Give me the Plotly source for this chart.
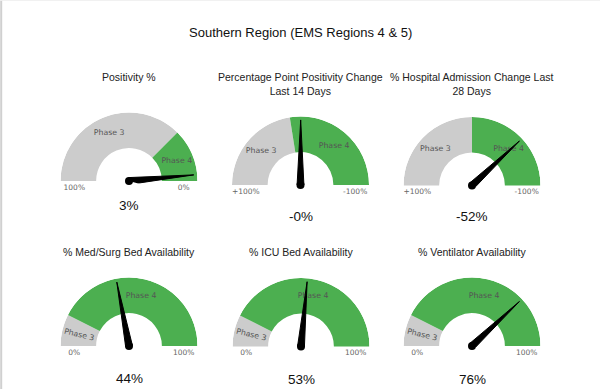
import math
import plotly.graph_objects as go

# ---------------- data ----------------
main_title = "Southern Region (EMS Regions 4 & 5)"
gauge_titles = [
    "Positivity %",
    "Percentage Point Positivity Change<br>Last 14 Days",
    "% Hospital Admission Change Last<br>28 Days",
    "% Med/Surg Bed Availability",
    "% ICU Bed Availability",
    "% Ventilator Availability",
]
values = [3, -0.2, -52, 44, 53, 76]
left_values = [100, 100, 100, 0, 0, 0]
right_values = [0, -100, -100, 100, 100, 100]
left_labels = ["100%", "+100%", "+100%", "0%", "0%", "0%"]
right_labels = ["0%", "-100%", "-100%", "100%", "100%", "100%"]
phase3_start = [100, 100, 100, 0, 0, 0]
phase3_end = [25, 10, 0, 15, 15, 15]
phase4_start = [25, 10, 0, 15, 15, 15]
phase4_end = [0, -100, -100, 100, 100, 100]
band_names = ["Phase 3", "Phase 4"]

# ---------------- layout / style ----------------
W, H = 600, 389
R = 68.5
centers = [(129, 181), (300.5, 185), (472, 185.5), (129, 346), (301, 346.5), (472, 346)]
title_top = [69, 69, 69, 244, 244, 244]
value_y = [205.5, 216, 216, 378.5, 379, 379]
GRAY = "#cccccc"
GREEN = "#4caf50"
band_colors = [GRAY, GREEN]
FONT = "Liberation Sans, Arial, sans-serif"
SMALL_FONT = "DejaVu Sans, Verdana, sans-serif"
SECTOR = (-15, 195)
below = math.sin(math.radians(-SECTOR[0]))
END_LABEL_DROP = 3.5  # degrees below the baseline for the end labels

fig = go.Figure()


def to_theta(v, i):
    # angle measured counter-clockwise from the right end of the gauge
    return 180.0 * (v - right_values[i]) / (left_values[i] - right_values[i])


annotations = []
for i in range(6):
    cx, cy = centers[i]
    pid = "polar" if i == 0 else f"polar{i + 1}"
    sub = pid
    x0, x1 = (cx - R) / W, (cx + R) / W
    y1 = 1 - (cy - R) / H
    y0 = 1 - (cy + below * R) / H
    fig.update_layout({pid: dict(
        domain=dict(x=[x0, x1], y=[y0, y1]),
        sector=list(SECTOR),
        bgcolor="rgba(0,0,0,0)",
        hole=0,
        radialaxis=dict(visible=False, range=[0, 1]),
        angularaxis=dict(visible=False, rotation=0, direction="counterclockwise",
                         thetaunit="degrees"),
    )})

    starts = [phase3_start[i], phase4_start[i]]
    ends = [phase3_end[i], phase4_end[i]]
    for b in range(2):
        t0, t1 = to_theta(starts[b], i), to_theta(ends[b], i)
        fig.add_trace(go.Barpolar(
            r=[0.52], base=[0.48], theta=[(t0 + t1) / 2], width=[abs(t1 - t0)],
            marker=dict(color=band_colors[b], line=dict(width=0)),
            subplot=sub, showlegend=False, hoverinfo="skip",
        ))
        tc = (t0 + t1) / 2
        span = abs(t1 - t0)
        if span < 35:
            ang = math.radians(tc)
            lx = cx + 0.75 * R * math.cos(ang)
            ly = cy - 0.75 * R * math.sin(ang)
            annotations.append(dict(
                x=lx / W, y=1 - ly / H, xref="paper", yref="paper",
                text=band_names[b], showarrow=False,
                textangle=180 - tc if tc > 90 else -tc,
                font=dict(family=SMALL_FONT, size=7.8, color="#555555"),
                xanchor="center", yanchor="middle",
            ))
        else:
            fig.add_trace(go.Scatterpolar(
                r=[0.755], theta=[tc], mode="text", text=[band_names[b]],
                textfont=dict(family=SMALL_FONT, size=7.8, color="#555555"),
                subplot=sub, showlegend=False, hoverinfo="skip", cliponaxis=False,
            ))

    # end labels
    fig.add_trace(go.Scatterpolar(
        r=[0.8, 0.8], theta=[180 + END_LABEL_DROP, -END_LABEL_DROP], mode="text",
        text=[left_labels[i], right_labels[i]], textposition="bottom center",
        textfont=dict(family=SMALL_FONT, size=7.5, color="#666666"),
        subplot=sub, showlegend=False, hoverinfo="skip", cliponaxis=False,
    ))

    # needle
    th = to_theta(values[i], i)
    fig.add_trace(go.Scatterpolar(
        r=[0.05, 0.95, 0.05, 0.05], theta=[th + 90, th, th - 90, th + 90],
        mode="lines", fill="toself", fillcolor="black",
        line=dict(color="black", width=1),
        subplot=sub, showlegend=False, hoverinfo="skip",
    ))
    fig.add_trace(go.Scatterpolar(
        r=[0], theta=[0], mode="markers",
        marker=dict(color="black", size=8),
        subplot=sub, showlegend=False, hoverinfo="skip", cliponaxis=False,
    ))

    annotations.append(dict(
        x=cx / W, y=1 - title_top[i] / H, xref="paper", yref="paper",
        text=gauge_titles[i], showarrow=False, xanchor="center", yanchor="top",
        font=dict(family=FONT, size=10.5, color="#222222"),
    ))
    annotations.append(dict(
        x=cx / W, y=1 - value_y[i] / H, xref="paper", yref="paper",
        text=f"{values[i]:.0f}%", showarrow=False, xanchor="center", yanchor="middle",
        font=dict(family=FONT, size=13.5, color="#111111"),
    ))

annotations.append(dict(
    x=0.5, y=1 - 32.5 / H, xref="paper", yref="paper", text=main_title,
    showarrow=False, xanchor="center", yanchor="middle",
    font=dict(family=FONT, size=13, color="#111111"),
))

fig.update_layout(
    width=W, height=H,
    margin=dict(l=0, r=0, t=0, b=0),
    paper_bgcolor="white", plot_bgcolor="white",
    annotations=annotations,
    shapes=[
        dict(type="line", xref="paper", yref="paper", x0=0.002, x1=0.002, y0=0, y1=1,
             line=dict(color="#d0d0d0", width=2)),
        dict(type="line", xref="paper", yref="paper", x0=0, x1=1, y0=0.999, y1=0.999,
             line=dict(color="#f0f0f0", width=1)),
    ],
)

fig.write_html(
    "out.html",
    config={"displayModeBar": False},
    post_script="document.body.style.margin='0';document.body.style.overflow='hidden';",
)
